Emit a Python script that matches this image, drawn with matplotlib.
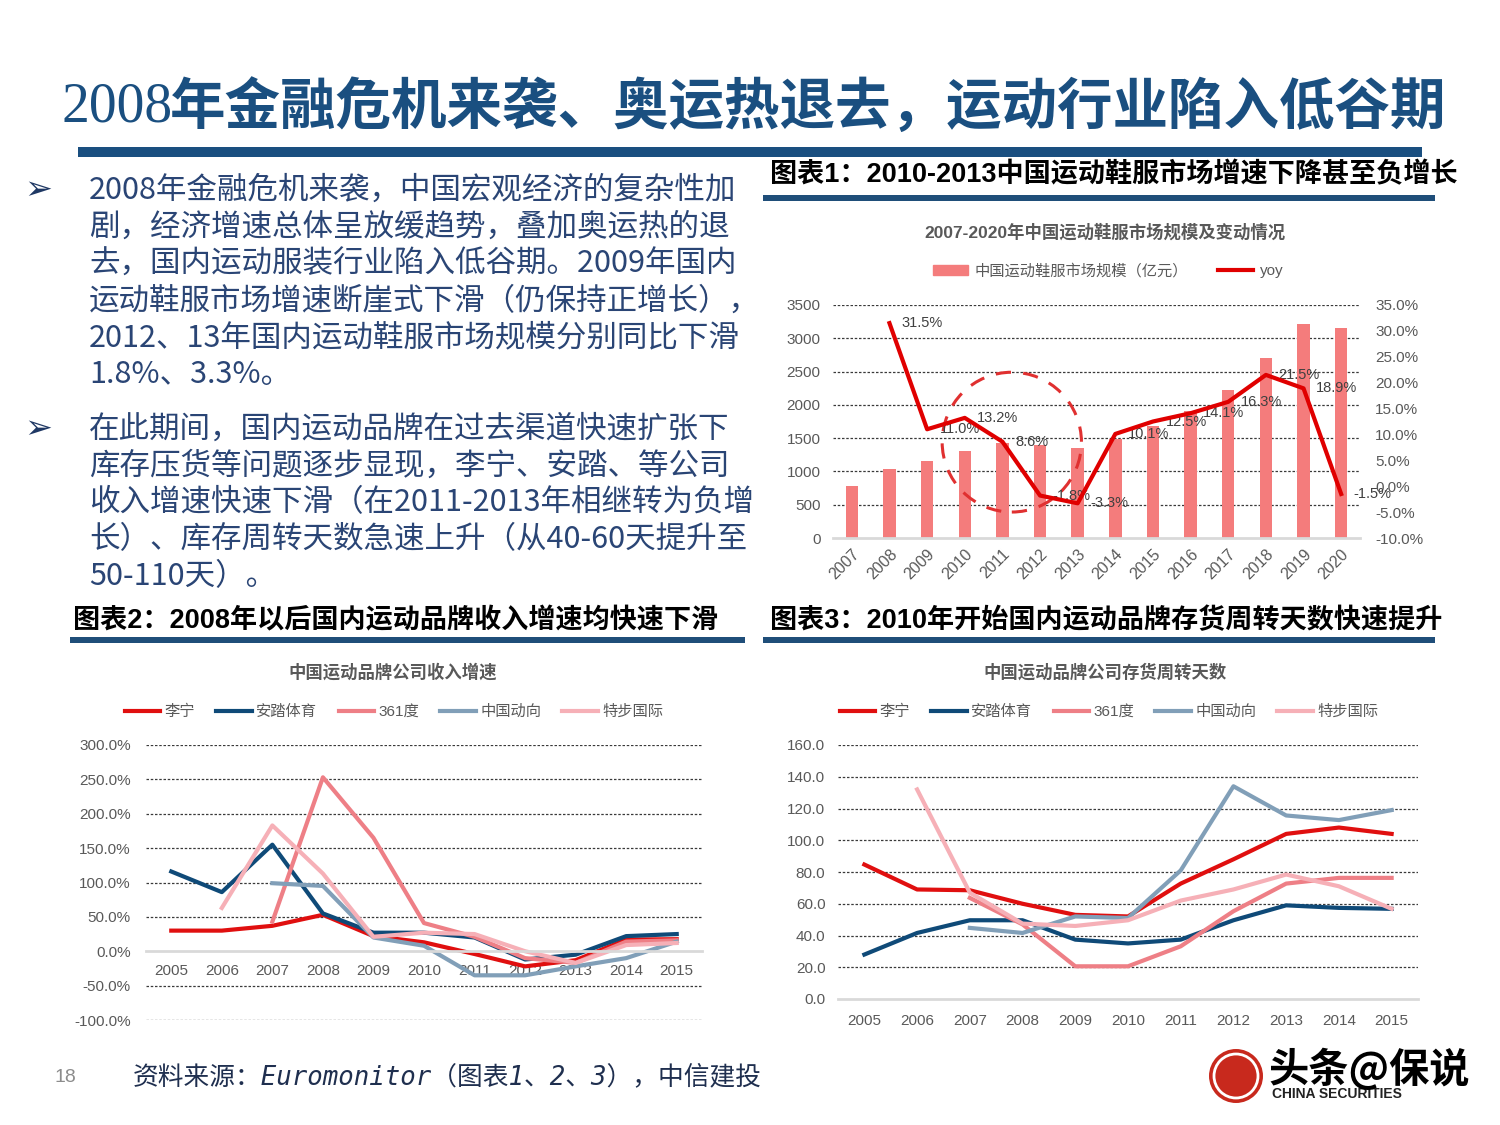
import matplotlib
matplotlib.use('Agg')
import matplotlib.pyplot as plt
from matplotlib.patches import Rectangle, Ellipse
from matplotlib.lines import Line2D
import numpy as np

plt.rcParams['font.family'] = ['Liberation Sans', 'Noto Sans CJK SC', 'DejaVu Sans']

nan = np.nan

# ---- data ----
years_mkt = ['2007', '2008', '2009', '2010', '2011', '2012', '2013',
             '2014', '2015', '2016', '2017', '2018', '2019', '2020']
market_size = [785, 1032, 1150, 1310, 1423, 1398, 1352,
               1488, 1675, 1910, 2222, 2700, 3210, 3162]
market_yoy = [nan, 31.5, 11.0, 13.2, 8.6, -1.8, -3.3,
              10.1, 12.5, 14.1, 16.3, 21.5, 18.9, -1.5]

years_brand = ['2005', '2006', '2007', '2008', '2009', '2010',
               '2011', '2012', '2013', '2014', '2015']
brands = ['李宁', '安踏体育', '361度', '中国动向', '特步国际']

rev_lining = [30, 30, 37, 53, 22, 13, -4, -22, -13, 17, 17.5]
rev_anta = [116, 86, 155, 55, 27, 27, 20, -12, -5, 22, 25]
rev_361 = [nan, nan, 43, 253, 165, 41, 21, -10, -17, 14, 16]
rev_kappa = [nan, nan, 99, 95, 20, 8, -35, -35, -22, -10, 14]
rev_xtep = [nan, 63, 183, 113, 21, 27, 25, 0, -17, 9, 12]

inv_lining = [84.7, 69, 68.5, 60, 53, 52, 72.7, 88, 104, 108, 104]
inv_anta = [28, 41.6, 49.6, 49.6, 37.4, 35, 37.4, 49.6, 59, 57.4, 56.8]
inv_361 = [nan, nan, 63.7, 47, 20.6, 20.6, 33.2, 55.3, 72.7, 76.3, 76.3]
inv_kappa = [nan, nan, 44.8, 41.6, 52, 51, 81, 134, 115.6, 112.7, 119]
inv_xtep = [nan, 132, 67, 47.5, 46, 49.6, 62, 69, 78.4, 71, 56.8]

bullet1 = ["2008年金融危机来袭，中国宏观经济的复杂性加",
           "剧，经济增速总体呈放缓趋势，叠加奥运热的退",
           "去，国内运动服装行业陷入低谷期。2009年国内",
           "运动鞋服市场增速断崖式下滑（仍保持正增长），",
           "2012、13年国内运动鞋服市场规模分别同比下滑",
           "1.8%、3.3%。"]
bullet2 = ["在此期间，国内运动品牌在过去渠道快速扩张下",
           "库存压货等问题逐步显现，李宁、安踏、等公司",
           "收入增速快速下滑（在2011-2013年相继转为负增",
           "长）、库存周转天数急速上升（从40-60天提升至",
           "50-110天）。"]

brand_colors = ['#E00F0F', '#0F4A78', '#EE7F86', '#819FB8', '#F6B0B7']
NAVY = '#1A4F80'
GREY = '#595959'

W, H = 1500, 1125
fig = plt.figure(figsize=(15, 11.25), dpi=100)


def fx(x):
    return x / W


def fy(y):
    return 1 - y / H


def box(x0, y0, x1, y1):
    return [fx(x0), fy(y1), (x1 - x0) / W, (y1 - y0) / H]


def bar_rect(x0, y0, x1, y1, color):
    fig.add_artist(Rectangle((fx(x0), fy(y1)), (x1 - x0) / W, (y1 - y0) / H,
                             transform=fig.transFigure, color=color, lw=0))


def base_style(ax, ticks, zero):
    for s in ['left', 'right', 'top']:
        ax.spines[s].set_visible(False)
    ax.spines['bottom'].set_color('#D9D9D9')
    ax.spines['bottom'].set_linewidth(2)
    ax.tick_params(length=0, labelcolor=GREY, labelsize=11)
    for t in ticks:
        if t != zero:
            ax.axhline(t, color='#3a3a3a', lw=0.9, ls=(0, (2, 1.4)), zorder=0.5)
    ax.set_axisbelow(True)


# ---- slide title ----
fig.text(fx(62), fy(108), '2008', fontsize=40, family='Liberation Serif',
         color=NAVY, va='center', ha='left')
fig.text(fx(170), fy(108), '年金融危机来袭、奥运热退去，运动行业陷入低谷期',
         fontsize=40, family='Noto Sans CJK SC', weight='bold',
         color=NAVY, va='center', ha='left')
bar_rect(78, 147, 1422, 157, NAVY)

# ---- bullets ----
for lines, y0 in [(bullet1, 190), (bullet2, 429)]:
    fig.text(fx(38), fy(y0), '➢', fontsize=24, family='DejaVu Sans',
             color='#1F3864', va='center', ha='center')
    for i, ln in enumerate(lines):
        fig.text(fx(89), fy(y0 + i * 37), ln, fontsize=22,
                 family='Noto Sans CJK SC', color='#2A4575',
                 va='center', ha='left')

# ---- chart headers ----
hdr = dict(fontsize=19.5, weight='bold', color='black', va='center',
           ha='left', family=['Liberation Sans', 'Noto Sans CJK SC'])
fig.text(fx(770), fy(175), '图表1：2010-2013中国运动鞋服市场增速下降甚至负增长', **hdr)
bar_rect(763, 195, 1435, 201, '#1F4E79')
fig.text(fx(73), fy(621), '图表2：2008年以后国内运动品牌收入增速均快速下滑', **hdr)
bar_rect(70, 637, 745, 643, '#1F4E79')
fig.text(fx(770), fy(621), '图表3：2010年开始国内运动品牌存货周转天数快速提升', **hdr)
bar_rect(763, 637, 1435, 643, '#1F4E79')

sub = dict(fontsize=12.5, weight='bold', color=GREY, va='center', ha='center')
fig.text(fx(1105), fy(232), '2007-2020年中国运动鞋服市场规模及变动情况', **sub)
fig.text(fx(393), fy(672), '中国运动品牌公司收入增速', **sub)
fig.text(fx(1105), fy(672), '中国运动品牌公司存货周转天数', **sub)

# ---- chart 1 ----
ax1 = fig.add_axes(box(833, 305, 1360, 538))
x1 = np.arange(len(years_mkt))
ax1.bar(x1, market_size, width=0.33, color='#F47C7C', zorder=2)
ax1.set_xlim(-0.5, len(years_mkt) - 0.5)
ax1.set_ylim(0, 3500)
ax1.set_yticks(np.arange(0, 3501, 500))
base_style(ax1, np.arange(0, 3501, 500), 0)
ax1.tick_params(axis='y', pad=9)
ax1.set_xticks(x1)
ax1.set_xticklabels(years_mkt, rotation=45, ha='right', rotation_mode='anchor',
                    fontsize=11.5)
ax1.tick_params(axis='x', pad=6)
ax1.add_patch(Ellipse((4.25, 1440), 3.7, 2100, fill=False, ec='#E03030',
                      lw=2.2, ls=(0, (5, 4)), zorder=3))

ax1b = ax1.twinx()
ax1b.plot(x1, market_yoy, color='#E00000', lw=3, zorder=4)
ax1b.set_ylim(-10, 35)
ax1b.set_yticks(np.arange(-10, 36, 5))
ax1b.set_yticklabels(['%.1f%%' % v for v in np.arange(-10, 36, 5)])
for s in ['left', 'right', 'top', 'bottom']:
    ax1b.spines[s].set_visible(False)
ax1b.tick_params(length=0, labelcolor=GREY, labelsize=11, pad=11)
for xi, v in zip(x1, market_yoy):
    if not np.isnan(v):
        ax1b.annotate('%.1f%%' % v, (xi, v), xytext=(9, 0),
                      textcoords='offset points', ha='left', va='center',
                      fontsize=10.5, color='#404040')

h_bar = Rectangle((0, 0), 1, 1, color='#F47C7C')
h_line = Line2D([], [], color='#E00000', lw=3)
ax1.legend([h_bar, h_line], ['中国运动鞋服市场规模（亿元）', 'yoy'],
           loc='center', bbox_to_anchor=(fx(1108), fy(271)),
           bbox_transform=fig.transFigure, ncol=2, frameon=False,
           fontsize=11, labelcolor=GREY, handlelength=2.3, handleheight=0.6,
           handletextpad=0.4, columnspacing=2.0)

# ---- chart 2 ----
ax2 = fig.add_axes(box(146, 745, 702, 1020))
x2 = np.arange(len(years_brand))
rev_series = [rev_lining, rev_anta, rev_361, rev_kappa, rev_xtep]
for name, vals, c in zip(brands, rev_series, brand_colors):
    ax2.plot(x2, vals, color=c, lw=3, label=name, zorder=2)
ax2.set_xlim(-0.5, len(years_brand) - 0.5)
ax2.set_ylim(-100, 300)
ticks2 = np.arange(-100, 301, 50)
ax2.set_yticks(ticks2)
ax2.set_yticklabels(['%.1f%%' % v for v in ticks2])
base_style(ax2, ticks2, 0)
ax2.spines['bottom'].set_position(('data', 0))
ax2.set_xticks(x2)
ax2.set_xticklabels(years_brand, fontsize=11)
ax2.tick_params(axis='x', pad=9)
ax2.tick_params(axis='y', pad=11)
ax2.legend(loc='center', bbox_to_anchor=(fx(394), fy(712)),
           bbox_transform=fig.transFigure, ncol=5, frameon=False,
           fontsize=11, labelcolor=GREY, handlelength=2.3,
           handletextpad=0.3, columnspacing=1.4)

# ---- chart 3 ----
ax3 = fig.add_axes(box(838, 745, 1418, 999))
inv_series = [inv_lining, inv_anta, inv_361, inv_kappa, inv_xtep]
for name, vals, c in zip(brands, inv_series, brand_colors):
    ax3.plot(x2, vals, color=c, lw=3, label=name, zorder=2)
ax3.set_xlim(-0.5, len(years_brand) - 0.5)
ax3.set_ylim(0, 160)
ticks3 = np.arange(0, 161, 20)
ax3.set_yticks(ticks3)
ax3.set_yticklabels(['%.1f' % v for v in ticks3])
base_style(ax3, ticks3, 0)
ax3.set_xticks(x2)
ax3.set_xticklabels(years_brand, fontsize=11)
ax3.tick_params(axis='x', pad=11)
ax3.tick_params(axis='y', pad=9)
ax3.legend(loc='center', bbox_to_anchor=(fx(1109), fy(712)),
           bbox_transform=fig.transFigure, ncol=5, frameon=False,
           fontsize=11, labelcolor=GREY, handlelength=2.3,
           handletextpad=0.3, columnspacing=1.4)

# ---- footer ----
fig.text(fx(55), fy(1077), '18', fontsize=14, color='#8C8C8C', va='center')
fig.text(fx(133), fy(1077), '资料来源：Euromonitor（图表1、2、3），中信建投',
         fontsize=18.5, style='italic', color='#1F2F4F', va='center',
         family=['DejaVu Sans Mono', 'Noto Sans CJK SC'])
fig.add_artist(Ellipse((fx(1236), fy(1076)), 54 / W, 54 / H,
                       transform=fig.transFigure, fc='#C8291D', ec='none'))
fig.add_artist(Ellipse((fx(1236), fy(1076)), 44 / W, 44 / H,
                       transform=fig.transFigure, fc='none', ec='white', lw=2))
fig.text(fx(1272), fy(1094), 'CHINA SECURITIES', fontsize=10, weight='bold',
         color='#222222', va='center')
fig.text(fx(1268), fy(1070), '头条@保说', fontsize=29, weight='bold',
         color='black', va='center', family=['Noto Sans CJK SC', 'DejaVu Sans'])

fig.savefig('out.png', dpi=100)
